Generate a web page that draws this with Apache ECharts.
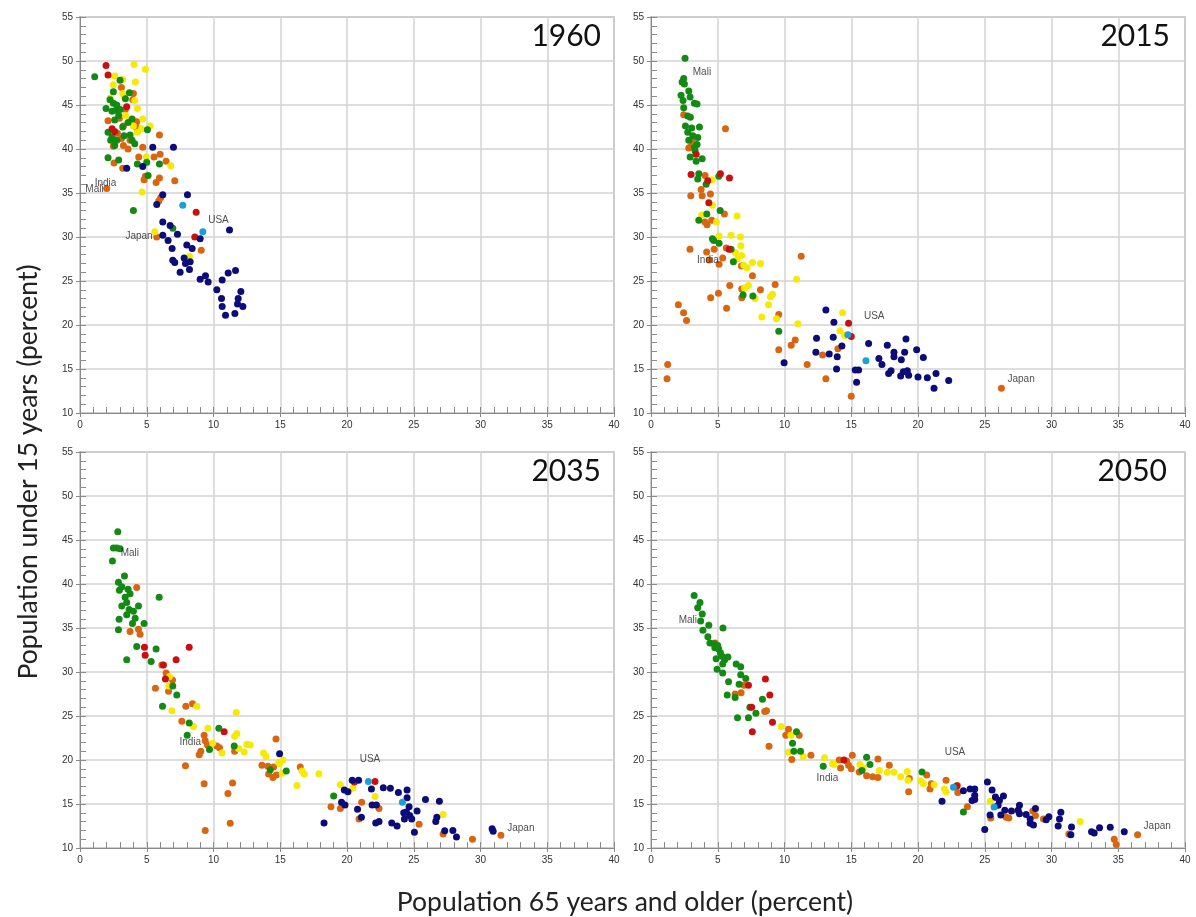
<!DOCTYPE html>
<html>
<head>
<meta charset="utf-8">
<script src="https://cdn.jsdelivr.net/npm/echarts@6/dist/echarts.min.js"></script>
<style>
html,body{margin:0;padding:0;background:#fff;}
#chart{width:1196px;height:917px;}
</style>
</head>
<body>
<div id="chart"></div>
<script>
// ---------------- DATA ----------------
const years = ['1960', '2015', '2035', '2050'];
const xTicks = [0, 40, 5];   // min, max, interval
const yTicks = [10, 55, 5];

// 1960
const green1960 = [[1.1,48.2],[3.0,47.8],[2.5,46.5],[3.7,46.4],[2.25,45.6],[2.5,45.2],[2.7,44.4],[1.95,44.6],[3.0,44.5],[2.4,44.3],[2.75,45.0],[3.9,43.4],[2.6,43.3],[3.6,43.0],[3.2,42.5],[2.1,41.9],[2.4,41.4],[2.3,41.0],[3.75,41.6],[3.9,41.0],[2.75,41.0],[5.05,42.2],[2.1,39.0],[2.9,38.75],[4.3,38.3],[5.0,38.5],[5.95,38.3],[5.1,37.0],[4.0,33.0],[6.95,31.0],[3.4,45.7],[2.9,43.8],[3.3,41.5],[4.1,40.6],[2.6,40.4]];
const orange1960 = [[3.1,47.0],[4.0,46.3],[3.95,45.6],[3.4,44.5],[2.1,43.2],[2.95,43.5],[4.25,43.1],[3.25,42.6],[2.8,41.8],[3.1,41.2],[2.5,40.3],[3.25,40.4],[3.6,40.0],[3.75,41.0],[4.25,42.4],[5.95,41.6],[4.7,40.2],[4.4,39.1],[5.55,39.1],[6.0,39.4],[6.45,38.6],[2.55,38.4],[3.2,37.8],[4.9,36.9],[5.95,36.7],[5.7,36.2],[7.1,36.4],[4.8,36.5],[2.0,35.5],[6.05,34.5],[5.9,34.1],[5.75,30.0],[9.08,28.5]];
const yellow1960 = [[4.05,49.6],[4.9,49.05],[2.6,48.3],[3.2,47.9],[4.15,47.6],[2.5,47.3],[3.2,46.3],[3.3,46.0],[2.25,45.8],[4.1,45.5],[4.3,44.6],[3.4,43.8],[3.75,43.2],[4.7,43.4],[4.0,42.6],[4.6,42.3],[5.25,42.6],[4.3,41.9],[4.95,39.1],[6.8,38.1],[4.65,35.1],[5.6,30.6],[8.2,27.8]];
const red1960 = [[1.95,49.5],[2.1,48.4],[2.4,42.3],[2.6,42.0],[3.5,44.8],[8.7,32.8],[8.6,30.0]];
const navy1960 = [[5.45,40.2],[7.0,40.2],[3.5,37.8],[4.7,38.0],[6.2,34.8],[8.05,34.8],[5.75,33.7],[6.2,31.7],[6.75,31.3],[6.2,30.2],[7.3,30.3],[6.6,29.6],[6.9,28.7],[8.0,29.1],[8.4,28.7],[9.0,29.8],[6.95,27.35],[7.1,27.1],[7.8,27.6],[7.9,27.0],[8.25,27.2],[8.2,26.3],[7.5,26.0],[9.0,25.2],[9.4,25.6],[9.6,24.9],[10.65,25.1],[11.1,25.9],[11.65,26.2],[10.25,24.0],[10.6,23.0],[10.65,22.1],[10.9,21.1],[11.6,21.3],[11.85,23.0],[12.05,23.8],[11.8,22.4],[12.2,22.1],[11.2,30.8]];
const lightblue1960 = [[7.7,33.6],[9.2,30.6]];
const labels1960 = [[0.4,35.4,'Mali'],[1.1,36.1,'India'],[9.6,31.9,'USA'],[3.4,30.1,'Japan']];

// 2015
const green2015 = [[2.55,50.3],[2.45,48.0],[2.33,47.6],[2.5,47.4],[2.25,46.1],[2.4,45.5],[2.45,44.7],[2.83,46.6],[2.93,45.9],[3.25,45.2],[3.45,45.1],[2.75,43.75],[2.95,43.6],[2.58,42.6],[3.05,42.4],[3.63,42.5],[2.75,41.9],[3.13,41.5],[3.5,41.3],[2.83,41.0],[3.45,40.5],[3.25,40.2],[3.3,39.8],[2.93,39.1],[3.83,38.9],[3.38,38.6],[3.58,37.2],[3.5,36.6],[4.13,36.0],[5.08,36.9],[4.18,32.6],[5.18,33.0],[3.58,31.9],[4.6,29.8],[4.7,29.6],[5.1,29.3],[6.0,28.6],[6.17,27.2],[6.9,23.4],[7.63,23.3],[9.57,19.3]];
const orange2015 = [[2.45,43.9],[2.93,40.2],[3.08,40.9],[2.83,40.1],[5.58,42.3],[2.98,34.7],[4.05,37.0],[3.75,35.4],[3.83,34.7],[4.45,34.9],[5.5,32.6],[4.55,31.9],[2.05,22.3],[2.44,21.4],[2.66,20.5],[1.25,15.5],[1.2,13.9],[2.92,28.6],[4.17,28.3],[4.36,27.4],[5.1,26.9],[5.37,27.6],[4.73,28.6],[5.64,28.75],[5.05,23.6],[4.47,23.1],[5.66,21.9],[5.9,24.5],[6.8,24.1],[6.8,23.1],[6.78,26.7],[7.6,25.6],[8.2,24.0],[9.3,24.6],[9.57,21.2],[9.57,17.2],[10.5,17.7],[10.8,18.3],[11.25,27.8],[11.7,15.5],[12.85,16.6],[13.1,13.9],[14.0,17.3],[15.0,11.9],[26.25,12.8],[4.2,31.4],[4.04,31.7]];
const yellow2015 = [[4.58,36.5],[4.6,33.6],[6.45,32.4],[3.8,32.5],[4.9,31.7],[5.1,30.1],[6.0,30.2],[6.7,30.0],[6.73,29.0],[6.33,28.2],[6.46,27.5],[6.8,27.9],[6.95,26.8],[7.2,26.5],[7.6,27.1],[8.2,27.0],[7.0,24.2],[7.3,24.5],[7.8,23.0],[8.8,22.3],[8.95,23.2],[9.1,23.5],[8.3,20.9],[9.4,20.7],[10.9,25.2],[11.0,20.15],[14.15,19.35],[14.35,21.4],[14.5,18.8]];
const red2015 = [[3.38,39.4],[3.0,37.1],[4.25,36.4],[5.2,37.2],[5.88,36.7],[4.33,33.9],[5.85,28.6],[14.8,20.2],[15.0,18.7]];
const navy2015 = [[13.1,21.7],[13.7,20.3],[12.4,18.5],[13.65,18.6],[12.35,16.9],[13.35,16.7],[13.95,16.4],[13.9,15.0],[14.3,17.6],[9.97,15.7],[15.3,14.9],[15.55,14.9],[15.4,13.5],[16.3,17.9],[17.07,16.2],[17.3,15.5],[17.7,17.7],[18.2,16.9],[18.2,16.4],[17.8,14.5],[17.98,14.8],[18.75,16.05],[18.7,14.2],[18.9,14.7],[19.0,16.9],[19.1,18.4],[19.2,14.8],[19.3,14.3],[19.9,17.2],[20.0,14.1],[20.4,16.3],[20.7,14.0],[21.2,12.8],[21.35,14.5],[22.3,13.7]];
const lightblue2015 = [[14.75,18.9],[16.1,15.95]];
const labels2015 = [[3.13,48.75,'Mali'],[3.45,27.4,'India'],[15.95,21.0,'USA'],[26.7,13.8,'Japan']];

// 2035
const green2035 = [[2.83,45.95],[2.5,44.1],[2.75,44.1],[3.0,44.0],[2.43,42.6],[3.33,40.9],[2.88,40.2],[3.13,39.7],[2.95,39.3],[3.6,39.4],[3.75,38.9],[3.38,38.5],[3.5,37.9],[3.13,37.5],[4.38,37.5],[3.68,37.1],[4.0,36.9],[3.5,36.5],[4.13,36.1],[2.93,36.0],[3.93,35.5],[4.8,35.5],[2.88,34.8],[5.93,38.5],[4.25,32.9],[5.7,32.6],[3.5,31.4],[5.33,31.2],[6.95,28.4],[7.25,27.4],[6.18,26.1],[8.18,24.2],[8.03,22.8],[10.4,23.6],[9.7,21.2],[11.55,21.6],[14.25,18.9],[15.45,18.75],[19.0,15.9]];
const orange2035 = [[4.25,39.6],[3.75,34.6],[4.38,34.85],[4.5,34.3],[6.13,30.8],[6.45,29.9],[6.93,29.1],[5.65,28.15],[6.63,27.8],[7.93,26.1],[8.43,26.4],[7.63,24.4],[9.3,22.8],[9.38,22.2],[9.55,21.7],[9.05,21.0],[8.93,20.6],[10.25,21.6],[10.45,21.4],[11.58,21.0],[7.9,19.35],[9.3,17.3],[11.43,17.4],[11.08,16.2],[11.25,12.8],[9.38,12.0],[14.68,22.4],[13.63,19.4],[14.08,19.3],[14.5,19.2],[14.13,18.4],[14.45,18.0],[14.7,18.3],[16.5,19.2],[18.8,14.7],[19.5,14.5],[21.1,15.2],[20.9,13.3],[22.4,14.5],[25.4,12.7],[27.2,11.6],[29.4,11.0],[31.53,11.45]];
const yellow2035 = [[6.7,29.5],[6.65,28.4],[6.88,25.6],[8.75,26.1],[8.5,23.8],[9.58,23.6],[11.7,25.4],[11.58,22.7],[11.75,23.0],[9.93,21.9],[10.63,20.8],[11.88,21.3],[12.3,20.9],[12.5,21.8],[12.75,21.7],[13.75,20.8],[13.93,20.4],[14.88,19.7],[15.2,20.0],[14.95,19.6],[15.15,18.5],[16.63,18.75],[16.8,18.4],[17.9,18.45],[16.25,17.1],[19.5,17.2],[20.45,16.8],[22.1,15.85],[27.2,13.8]];
const red2035 = [[4.83,32.8],[4.88,31.9],[8.18,32.8],[7.2,31.4],[6.25,30.8],[6.4,29.2],[10.8,23.2],[20.55,17.5],[22.1,17.55]];
const navy2035 = [[14.95,20.7],[18.28,12.85],[20.39,17.7],[20.87,17.7],[19.8,16.6],[20.07,16.4],[19.59,15.2],[19.85,14.9],[20.79,14.4],[21.08,13.5],[21.83,16.7],[21.88,14.9],[22.2,14.9],[22.15,12.85],[22.4,13.0],[22.72,16.85],[23.25,16.8],[23.85,16.3],[24.5,16.6],[24.5,15.7],[23.35,12.85],[23.75,12.5],[24.65,14.7],[24.25,14.0],[24.45,14.1],[24.7,13.7],[24.3,13.3],[24.85,13.3],[25.25,14.2],[25.05,11.8],[25.88,15.5],[26.92,15.3],[26.65,13.0],[26.73,13.5],[27.32,11.95],[27.93,12.0],[28.2,11.25],[30.87,12.2],[30.95,11.9]];
const lightblue2035 = [[21.6,17.55],[24.15,15.2]];
const labels2035 = [[3.05,43.5,'Mali'],[7.45,22.0,'India'],[20.95,20.1,'USA'],[32.0,12.3,'Japan']];

// 2050
const green2050 = [[3.23,38.7],[3.67,37.9],[3.5,37.3],[3.84,36.6],[3.72,35.8],[4.33,35.3],[3.89,34.75],[5.39,35.0],[4.26,34.0],[4.41,33.3],[4.7,33.2],[5.0,33.0],[4.78,32.75],[5.07,32.6],[5.2,32.2],[4.88,31.5],[5.32,31.8],[5.52,31.4],[5.76,31.7],[5.37,30.9],[4.95,30.3],[5.37,29.9],[6.38,30.9],[6.72,30.6],[6.72,29.7],[7.1,29.25],[5.81,28.9],[6.6,28.6],[5.71,27.4],[6.3,27.1],[6.48,24.8],[7.3,24.8],[7.41,26.0],[7.86,25.3],[8.35,26.9],[10.9,23.2],[10.6,21.9],[10.7,21.0],[11.2,21.0],[12.9,19.3],[16.15,20.3],[16.4,19.5],[15.8,18.8],[20.3,18.65],[23.4,14.1]];
const orange2050 = [[4.8,33.3],[6.97,28.5],[6.3,27.5],[6.75,27.65],[8.52,25.5],[8.65,25.6],[8.84,21.55],[10.3,23.5],[10.1,22.8],[11.1,22.8],[10.55,20.05],[11.98,20.55],[14.1,20.0],[14.65,19.9],[15.08,20.55],[14.2,19.1],[14.8,19.4],[15.0,19.0],[15.6,18.65],[16.15,18.2],[16.6,18.1],[17.0,18.0],[17.0,20.1],[17.85,19.4],[19.35,17.9],[19.3,16.4],[20.65,18.3],[21.0,17.3],[20.9,16.7],[22.1,17.7],[22.95,17.1],[22.98,16.3],[23.7,14.7],[25.8,15.7],[25.45,13.4],[26.6,13.5],[28.6,14.2],[26.8,13.4],[28.8,13.7],[29.4,13.3],[31.3,11.6],[34.7,11.0],[34.85,10.4],[36.45,11.5]];
const yellow2050 = [[9.75,23.8],[10.48,22.8],[10.3,20.9],[11.4,20.4],[13.0,20.25],[13.7,19.5],[13.6,19.6],[15.65,19.5],[15.9,19.1],[17.1,18.8],[17.7,18.6],[18.2,18.6],[18.7,18.1],[19.2,18.7],[19.25,17.7],[20.2,17.6],[20.4,17.3],[21.2,17.2],[21.98,16.7],[22.1,16.4],[25.4,15.3],[27.4,14.2],[32.15,13.0]];
const red2050 = [[8.57,29.2],[8.9,27.4],[7.3,28.5],[7.54,26.0],[7.59,23.2],[9.1,24.3],[14.45,20.0],[22.9,17.05]];
const navy2050 = [[21.8,15.3],[23.4,16.5],[23.9,16.7],[24.25,16.7],[24.25,16.0],[24.25,15.5],[24.05,15.4],[25.2,17.5],[25.55,16.6],[25.8,15.8],[26.4,15.9],[26.1,15.4],[26.0,14.85],[27.0,14.2],[27.5,14.3],[27.6,14.85],[28.1,13.8],[28.4,13.3],[28.8,14.5],[25.0,12.1],[25.4,13.75],[26.2,13.75],[26.5,14.3],[27.6,13.9],[28.4,12.8],[28.65,12.6],[29.6,13.2],[29.8,13.55],[30.5,12.5],[30.6,13.3],[30.7,14.05],[31.5,12.4],[31.45,11.5],[33.0,11.85],[33.2,11.7],[33.6,12.3],[34.4,12.35],[35.45,11.85]];
const lightblue2050 = [[22.65,16.9],[25.7,14.65]];
const labels2050 = [[2.07,35.9,'Mali'],[12.4,17.9,'India'],[22.0,20.9,'USA'],[36.9,12.45,'Japan']];

const xTitle = 'Population 65 years and older (percent)';
const yTitle = 'Population under 15 years (percent)';

// ---------------- CHART ----------------
const COLORS = {orange:'#d9660f', yellow:'#f7e900', green:'#138a13', red:'#c81010', navy:'#0b0b7a', lightblue:'#1d9ed8'};
const panels = [
  {orange:orange1960, yellow:yellow1960, green:green1960, red:red1960, navy:navy1960, lightblue:lightblue1960, labels:labels1960},
  {orange:orange2015, yellow:yellow2015, green:green2015, red:red2015, navy:navy2015, lightblue:lightblue2015, labels:labels2015},
  {orange:orange2035, yellow:yellow2035, green:green2035, red:red2035, navy:navy2035, lightblue:lightblue2035, labels:labels2035},
  {orange:orange2050, yellow:yellow2050, green:green2050, red:red2050, navy:navy2050, lightblue:lightblue2050, labels:labels2050}
];
const gridPos = [
  {left:80, top:17, width:534, height:396},
  {left:651, top:17, width:534, height:396},
  {left:80, top:452, width:534, height:396},
  {left:651, top:452, width:534, height:396}
];
const axisFont = {fontSize:10, color:'#333', fontFamily:'Liberation Sans'};
const grid = [], xAxis = [], yAxis = [], series = [], graphic = [];
gridPos.forEach((g, i) => {
  grid.push(Object.assign({show:true, borderColor:'#a8a8a8', borderWidth:1.5, backgroundColor:'#fff'}, g));
  // main axes (labels, split lines, outward major ticks)
  xAxis.push({gridIndex:i, type:'value', position:'bottom', min:xTicks[0], max:xTicks[1], interval:xTicks[2],
    axisLine:{show:true, onZero:false, lineStyle:{color:'#8a8a8a'}},
    axisTick:{show:true, inside:false, length:4, lineStyle:{color:'#8a8a8a'}},
    axisLabel:Object.assign({margin:7}, axisFont),
    splitLine:{show:true, lineStyle:{color:'#d3d3d3', width:1.5}}});
  yAxis.push({gridIndex:i, type:'value', position:'left', min:yTicks[0], max:yTicks[1], interval:yTicks[2],
    axisLine:{show:true, onZero:false, lineStyle:{color:'#8a8a8a'}},
    axisTick:{show:true, inside:false, length:4, lineStyle:{color:'#8a8a8a'}},
    axisLabel:Object.assign({margin:7}, axisFont),
    splitLine:{show:true, lineStyle:{color:'#d3d3d3', width:1.5}}});
});
gridPos.forEach((g, i) => {
  // overlay axes on the same sides for inward ticks
  xAxis.push({gridIndex:i, type:'value', position:'bottom', min:xTicks[0], max:xTicks[1], interval:xTicks[2],
    axisLine:{show:false, onZero:false}, axisTick:{show:true, inside:true, length:6, lineStyle:{color:'#8a8a8a'}},
    axisLabel:{show:false}, splitLine:{show:false},
    minorTick:{show:true, splitNumber:5, length:6, lineStyle:{color:'#8a8a8a'}}});
  yAxis.push({gridIndex:i, type:'value', position:'left', min:yTicks[0], max:yTicks[1], interval:yTicks[2],
    axisLine:{show:false, onZero:false}, axisTick:{show:true, inside:true, length:6, lineStyle:{color:'#8a8a8a'}},
    axisLabel:{show:false}, splitLine:{show:false},
    minorTick:{show:true, splitNumber:5, length:6, lineStyle:{color:'#8a8a8a'}}});
});
panels.forEach((p, i) => {
  ['orange','yellow','green','red','navy','lightblue'].forEach(k => {
    series.push({type:'scatter', xAxisIndex:i, yAxisIndex:i, data:p[k], symbolSize:7,
      itemStyle:{color:COLORS[k], opacity:1}, silent:true, z:3});
  });
  series.push({type:'scatter', xAxisIndex:i, yAxisIndex:i, data:p.labels, symbolSize:0, silent:true, z:5,
    label:{show:true, position:'right', distance:0, formatter:(d)=>d.data[2], fontSize:10, color:'#222', fontFamily:'Liberation Sans'}});
});
// year titles
const yearPos = [{right:595, top:21},{right:26, top:21},{right:595, top:456},{right:29, top:456}];
years.forEach((y, i) => {
  graphic.push({type:'text', right:yearPos[i].right, top:yearPos[i].top, z:10,
    style:{text:y, font:'30px Lato', fill:'#111'}});
});
graphic.push({type:'text', x:28, y:472, rotation:Math.PI/2, z:10,
  style:{text:yTitle, font:'26.5px Lato', fill:'#222', textAlign:'center', textVerticalAlign:'middle'}});
graphic.push({type:'text', x:625, y:902, z:10,
  style:{text:xTitle, font:'26.5px Lato', fill:'#222', textAlign:'center', textVerticalAlign:'middle'}});

const chart = echarts.init(document.getElementById('chart'), null, {renderer:'canvas'});
chart.setOption({animation:false, backgroundColor:'#fff', grid, xAxis, yAxis, series, graphic});
</script>
</body>
</html>
